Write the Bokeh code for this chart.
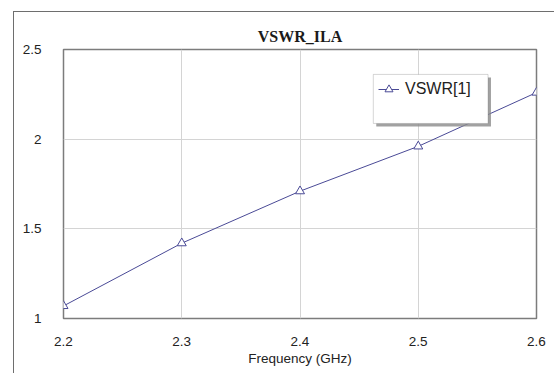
from bokeh.plotting import figure
from bokeh.models import Range1d, FixedTicker, Legend, LegendItem, BoxAnnotation
from bokeh.embed import file_html
from bokeh.resources import INLINE

# VSWR of the ILA antenna against frequency
freq_ghz = [2.2, 2.3, 2.4, 2.5, 2.6]
vswr = [1.07, 1.42, 1.71, 1.96, 2.26]
x_ticks = [2.2, 2.3, 2.4, 2.5, 2.6]
y_ticks = [1, 1.5, 2, 2.5]
series_name = "VSWR[1]"

LINE = "#4a4a96"
GRID = "#d4d4d4"
FRAME = "#7c7c7c"
TICK_FONT = "Liberation Sans"

p = figure(
    width=541, height=362,
    output_backend="svg", toolbar_location=None,
    x_range=Range1d(2.2, 2.6), y_range=Range1d(1, 2.5),
    min_border_left=49, min_border_right=19,
    min_border_top=37, min_border_bottom=56,
    title="VSWR_ILA",
    styles={"margin-left": "13px", "margin-top": "11px",
            "border-left": "1px solid #6e6e6e", "border-top": "1px solid #6e6e6e"},
)

p.title.align = "center"
p.title.text_font = "Liberation Serif"
p.title.text_font_style = "bold"
p.title.text_font_size = "16px"
p.title.text_color = "#1a1a1a"
p.title.text_line_height = 1.6

p.outline_line_color = FRAME
p.outline_line_width = 1.5
p.background_fill_color = "white"
p.border_fill_color = "white"

for ax in (p.xaxis[0], p.yaxis[0]):
    ax.axis_line_color = None
    ax.major_tick_line_color = None
    ax.minor_tick_line_color = None
    ax.major_label_text_font = TICK_FONT
    ax.major_label_text_font_size = "13.5px"
    ax.major_label_text_color = "#222222"

p.xaxis.major_label_standoff = 12
p.yaxis.major_label_standoff = 16
p.xaxis.ticker = FixedTicker(ticks=x_ticks)
p.yaxis.ticker = FixedTicker(ticks=y_ticks)
p.xaxis.major_label_overrides = {t: f"{t:g}" for t in x_ticks}
p.yaxis.major_label_overrides = {t: f"{t:g}" for t in y_ticks}
p.xaxis.axis_label = "Frequency (GHz)"
p.xaxis.axis_label_text_font = TICK_FONT
p.xaxis.axis_label_text_font_style = "normal"
p.xaxis.axis_label_text_font_size = "13.5px"
p.xaxis.axis_label_text_color = "#222222"
p.xaxis.axis_label_standoff = 2

p.xgrid.grid_line_color = GRID
p.ygrid.grid_line_color = GRID
p.xgrid.grid_line_width = 1
p.ygrid.grid_line_width = 1

ln = p.line(freq_ghz, vswr, line_color=LINE, line_width=1)
mk = p.scatter(freq_ghz, vswr, marker="triangle", size=9,
               line_color=LINE, line_width=1, fill_color="white")

# legend panel with a drop shadow
p.add_layout(BoxAnnotation(left=2.4645, right=2.5615, top=2.344, bottom=2.071,
                           fill_color="#8a8a8a", fill_alpha=0.8, line_color=None,
                           level="overlay"))
p.add_layout(BoxAnnotation(left=2.462, right=2.559, top=2.361, bottom=2.0876,
                           fill_color="white", fill_alpha=1.0,
                           line_color="#777777", line_width=1, level="overlay"))

legend = Legend(items=[LegendItem(label=series_name, renderers=[ln, mk])],
                location=(315, 219))
legend.border_line_color = None
legend.background_fill_alpha = 0
legend.padding = 0
legend.margin = 0
legend.spacing = 0
legend.glyph_width = 21
legend.glyph_height = 20
legend.label_height = 20
legend.label_standoff = 6
legend.label_text_font = TICK_FONT
legend.label_text_font_size = "16px"
legend.label_text_color = "#222222"
p.add_layout(legend)

open("out.html", "w").write(file_html(p, INLINE))
